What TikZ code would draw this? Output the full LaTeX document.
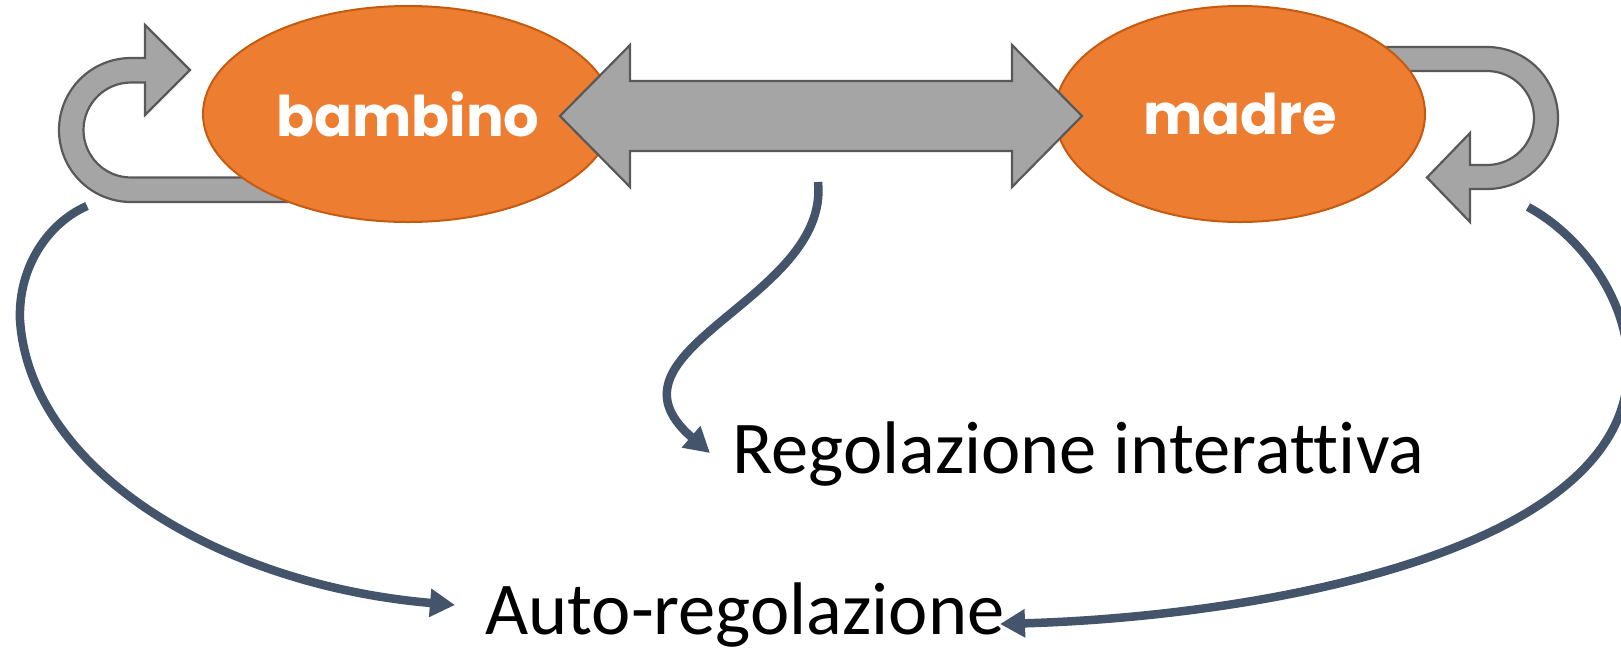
\documentclass[tikz,border=0pt]{standalone}
\usepackage{fontspec}
\newfontfamily\labelfont{Poppins}
\newfontfamily\calfont{Carlito}[Ligatures={NoCommon,NoRare}]
\usetikzlibrary{shapes.geometric,arrows.meta}
\definecolor{orangeFill}{HTML}{ED7D31}
\definecolor{orangeLine}{HTML}{C55A11}
\definecolor{grayFill}{HTML}{A5A5A5}
\definecolor{grayLine}{HTML}{595959}
\definecolor{slate}{HTML}{44546A}
\tikzset{
 blob/.style={ellipse, fill=orangeFill, draw=orangeLine, line width=2pt, inner sep=0pt, outer sep=0pt,
   text=white, font=\labelfont\bfseries\fontsize{56pt}{62pt}\selectfont},
 blocky/.style={fill=grayFill, draw=grayLine, line width=2.2pt, line join=miter},
 flow/.style={draw=slate, line width=8.5pt, -{Triangle[length=25pt,width=27pt]}},
 big/.style={text=black, font=\calfont\fontsize{74.5pt}{80pt}\selectfont, inner sep=0pt, anchor=base west}
}
\begin{document}
\begin{tikzpicture}[x=1pt,y=-1pt]
\useasboundingbox (0,0) rectangle (1621,654);
\clip (0,0) rectangle (1621,654);
% self-regulation loops (behind the ellipses)
\draw[blocky] (300,202) -- (131,202) arc[start angle=90,end angle=270,radius=72]
  -- (145,58) -- (145,25) -- (190,70) -- (145,115) -- (145,82.5) -- (131,82.5)
  arc[start angle=270,end angle=90,radius=47.5] -- (300,177.5) -- cycle;
\draw[blocky] (1360,47) -- (1487,47) arc[start angle=270,end angle=450,radius=71]
  -- (1470,189) -- (1470,222) -- (1427,177.5) -- (1470,133) -- (1470,165) -- (1487,165)
  arc[start angle=90,end angle=-90,radius=47] -- (1360,71) -- cycle;
% ellipses
\node[blob, minimum width=410pt, minimum height=216pt] (bambino) at (408,114) {bambino};
\node[blob, minimum width=370pt, minimum height=216pt] (madre) at (1240,114) {madre};
% double arrow
\coordinate (dl) at (560,116);
\coordinate (dr) at (1082,116);
\draw[blocky] (dl) -- (630,45) -- (630,81) -- (1012,81) -- (1012,45) -- (dr)
  -- (1012,187) -- (1012,151) -- (630,151) -- (630,187) -- cycle;
% texts
\node[big] (ri) at (732,473) {Regolazione interattiva};
\node[big] (ar) at (485,634) {Auto-regolazione};
% connectors
\coordinate (s1) at (818,182);
\coordinate (riTip) at (710,453);
\draw[flow] (s1) .. controls (830,300) and (590,350) .. (riTip);
\coordinate (s2) at (87,206);
\coordinate (arTipL) at (455,605);
\draw[flow] (s2) .. controls (50,222) and (18,265) .. (20,320)
  .. controls (30,470) and (220,585) .. (arTipL);
\coordinate (s3) at (1528,207);
\coordinate (arTipR) at (1000,624);
\draw[flow] (s3) .. controls (1580,235) and (1630,300) .. (1628,370)
  .. controls (1625,555) and (1250,617) .. (arTipR);
\end{tikzpicture}
\end{document}
